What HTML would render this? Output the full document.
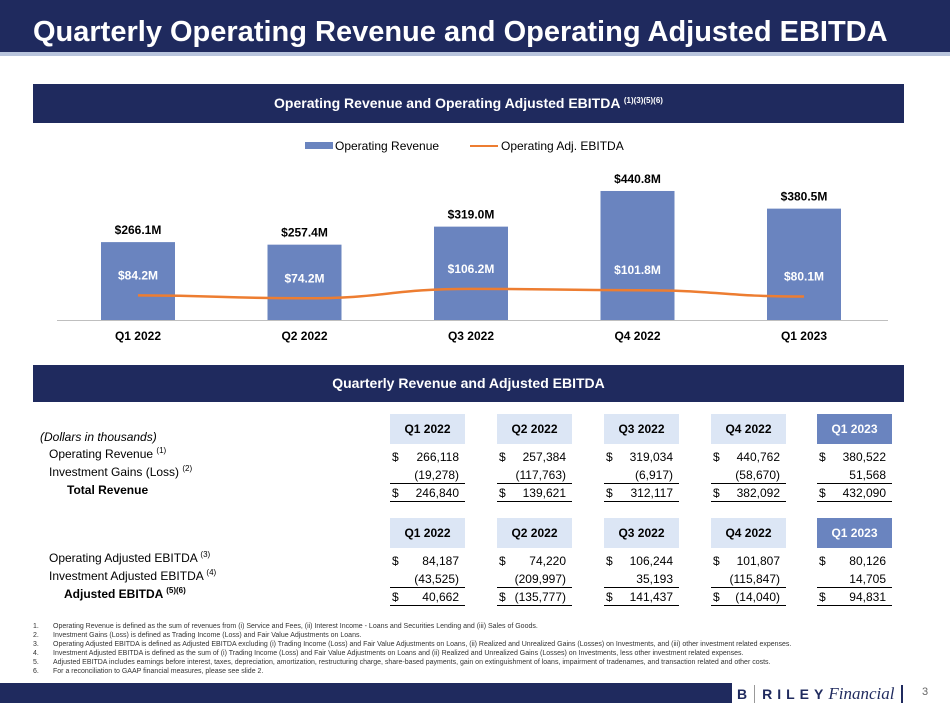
<!DOCTYPE html>
<html><head><meta charset="utf-8"><style>
*{margin:0;padding:0;box-sizing:border-box}
body{width:950px;height:712px;background:#fff;font-family:"Liberation Sans",sans-serif;position:relative;overflow:hidden;color:#000}
.abs{position:absolute}
.navy{background:#1f2a5e}
.hdr{position:absolute;left:390px;width:75px;height:30px;background:#dce6f5;font-weight:bold;font-size:12px;text-align:center;line-height:30px}
.hdr.cur{background:#6a84bf;color:#fff}
.cell{position:absolute;width:75px;height:18px;font-size:12px;line-height:18px}
.cell .d{position:absolute;left:2px}
.cell .v{position:absolute;right:6px}
.ul{border-bottom:1.5px solid #000}
.lab{position:absolute;font-size:12px;white-space:nowrap}
sup{font-size:8px;vertical-align:5px;line-height:0}
.fn{position:absolute;left:33px;font-size:7px;color:#333;white-space:nowrap}
.fn span{display:inline-block;width:20px}
</style></head><body>
<div class="abs navy" style="left:0;top:0;width:950px;height:52px"></div>
<div class="abs" style="left:0;top:52px;width:950px;height:4px;background:#b8c4dc"></div>
<div class="abs" style="left:33px;top:16px;color:#fff;font-weight:bold;font-size:29px;white-space:nowrap">Quarterly Operating Revenue and Operating Adjusted EBITDA</div>

<div class="abs navy" style="left:33px;top:84px;width:871px;height:39px;color:#fff;font-weight:bold;font-size:14px;text-align:center;line-height:39px">Operating Revenue and Operating Adjusted EBITDA <sup>(1)(3)(5)(6)</sup></div>

<svg class="abs" style="left:0;top:130px" width="950" height="220" id="chart"></svg>

<div class="abs navy" style="left:33px;top:365px;width:871px;height:37px;color:#fff;font-weight:bold;font-size:14px;text-align:center;line-height:37px">Quarterly Revenue and Adjusted EBITDA</div>

<div id="table"></div>

<div class="lab" style="left:40px;top:430px;font-style:italic">(Dollars in thousands)</div>
<div class="lab" style="left:49px;top:447px">Operating Revenue <sup>(1)</sup></div>
<div class="lab" style="left:49px;top:465px">Investment Gains (Loss) <sup>(2)</sup></div>
<div class="lab" style="left:67px;top:483px;font-weight:bold">Total Revenue</div>
<div class="lab" style="left:49px;top:551px">Operating Adjusted EBITDA <sup>(3)</sup></div>
<div class="lab" style="left:49px;top:569px">Investment Adjusted EBITDA <sup>(4)</sup></div>
<div class="lab" style="left:64px;top:587px;font-weight:bold">Adjusted EBITDA <sup>(5)(6)</sup></div>

<div>
<div class="fn" style="top:623px"><span>1.</span>Operating Revenue is defined as the sum of revenues from (i) Service and Fees, (ii) Interest Income - Loans and Securities Lending and (iii) Sales of Goods.</div>
<div class="fn" style="top:632px"><span>2.</span>Investment Gains (Loss) is defined as Trading Income (Loss) and Fair Value Adjustments on Loans.</div>
<div class="fn" style="top:641px"><span>3.</span>Operating Adjusted EBITDA is defined as Adjusted EBITDA excluding (i) Trading Income (Loss) and Fair Value Adjustments on Loans, (ii) Realized and Unrealized Gains (Losses) on Investments, and (iii) other investment related expenses.</div>
<div class="fn" style="top:650px"><span>4.</span>Investment Adjusted EBITDA is defined as the sum of (i) Trading Income (Loss) and Fair Value Adjustments on Loans and (ii) Realized and Unrealized Gains (Losses) on Investments, less other investment related expenses.</div>
<div class="fn" style="top:659px"><span>5.</span>Adjusted EBITDA includes earnings before interest, taxes, depreciation, amortization, restructuring charge, share-based payments, gain on extinguishment of loans, impairment of tradenames, and transaction related and other costs.</div>
<div class="fn" style="top:668px"><span>6.</span>For a reconciliation to GAAP financial measures, please see slide 2.</div>
</div>

<div class="abs navy" style="left:0;top:683px;width:732px;height:20px"></div>
<div class="abs" style="left:737px;top:684px;height:20px;white-space:nowrap;color:#1f2a5e;font-size:14px;line-height:20px">
<b>B</b><span style="display:inline-block;width:1px;height:18px;background:#999;margin:0 7px;vertical-align:-4px"></span><b style="letter-spacing:5px">RILEY</b><i style="font-family:'Liberation Serif',serif;font-size:17px">Financial</i><span style="display:inline-block;width:2px;height:18px;background:#1f2a5e;margin-left:7px;vertical-align:-4px"></span></div>
<div class="abs" style="left:922px;top:686px;font-size:11px;color:#666">3</div>

<script>
const categories=["Q1 2022","Q2 2022","Q3 2022","Q4 2022","Q1 2023"];
const revenue=[266.1,257.4,319.0,440.8,380.5];
const ebitda=[84.2,74.2,106.2,101.8,80.1];
const revLabels=["$266.1M","$257.4M","$319.0M","$440.8M","$380.5M"];
const ebitdaLabels=["$84.2M","$74.2M","$106.2M","$101.8M","$80.1M"];

const NS="http://www.w3.org/2000/svg";
const svg=document.getElementById('chart');
const top0=130, baseY=320-top0;
const x=i=>138+i*166.5;
const y=v=>baseY-v*0.2927;
function mk(t,a,txt){const e=document.createElementNS(NS,t);for(const k in a)e.setAttribute(k,a[k]);if(txt!==undefined)e.textContent=txt;svg.appendChild(e);return e;}
let lg=mk('rect',{x:305,y:12,width:28,height:7,fill:'#6a84bf'});


let lt=mk('text',{x:335,y:20,'font-size':12},'Operating Revenue');


let ll=mk('line',{x1:470,y1:16,x2:498,y2:16,stroke:'#ed7d31','stroke-width':2});


let lt2=mk('text',{x:501,y:20,'font-size':12},'Operating Adj. EBITDA');


let ax=mk('line',{x1:57,y1:baseY+0.5,x2:888,y2:baseY+0.5,stroke:'#bfbfbf','stroke-width':1});


categories.forEach((c,i)=>{
  const b=mk('rect',{x:x(i)-37,y:y(revenue[i]),width:74,height:baseY-y(revenue[i]),fill:'#6a84bf'});
  
  
  const t=mk('text',{x:x(i),y:y(revenue[i])-8,'font-size':12,'font-weight':'bold','text-anchor':'middle'},revLabels[i]);
  
  
  const t2=mk('text',{x:x(i),y:y(ebitda[i])-16,'font-size':12,'font-weight':'bold','text-anchor':'middle',fill:'#fff'},ebitdaLabels[i]);
  
  
  const tk=mk('text',{x:x(i),y:baseY+20,'font-size':12,'font-weight':'bold','text-anchor':'middle'},c);
  
  
});
let d='M'+x(0)+','+y(ebitda[0]);
for(let i=1;i<ebitda.length;i++){const mx=(x(i-1)+x(i))/2;d+=' C'+mx+','+y(ebitda[i-1])+' '+mx+','+y(ebitda[i])+' '+x(i)+','+y(ebitda[i]);}
const ln=mk('path',{d:d,fill:'none',stroke:'#ed7d31','stroke-width':2.5});



const opRev=["266,118","257,384","319,034","440,762","380,522"];
const invGain=["(19,278)","(117,763)","(6,917)","(58,670)","51,568"];
const totRev=["246,840","139,621","312,117","382,092","432,090"];
const opEb=["84,187","74,220","106,244","101,807","80,126"];
const invEb=["(43,525)","(209,997)","35,193","(115,847)","14,705"];
const adjEb=["40,662","(135,777)","141,437","(14,040)","94,831"];
const tbl=document.getElementById('table');
const colX=[390,497,604,711,817];
function cell(left,top,val,dollar,ul,name){
  const c=document.createElement('div');c.className='cell'+(ul?' ul':'');
  
  
  c.style.left=left+'px';c.style.top=top+'px';
  c.innerHTML=(dollar?'<span class="d">$</span>':'')+'<span class="v">'+val+'</span>';
  tbl.appendChild(c);
}
[[414,[opRev,invGain,totRev]],[518,[opEb,invEb,adjEb]]].forEach(([hy,rows],blk)=>{
  categories.forEach((c,i)=>{
    const h=document.createElement('div');h.className='hdr'+(i===4?' cur':'');
    
    
    h.style.left=colX[i]+'px';h.style.top=hy+'px';h.textContent=c;tbl.appendChild(h);
    rows.forEach((r,j)=>{
      cell(colX[i],hy+34+j*18,r[i],j!==1,j>=1,'table-cell');
    });
  });
});
</script>
</body></html>
